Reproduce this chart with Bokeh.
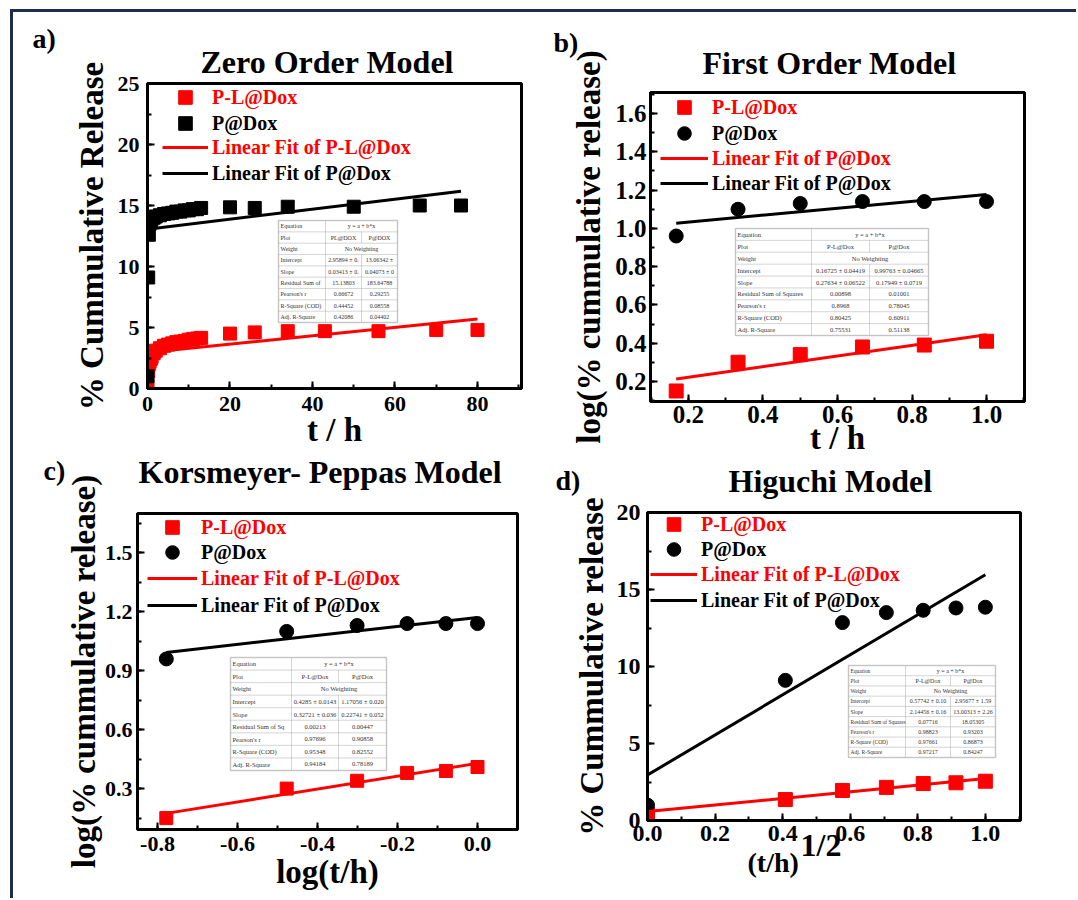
from bokeh.plotting import figure
from bokeh.layouts import column, row
from bokeh.models import (Legend, LegendItem, Label, BoxAnnotation, SingleIntervalTicker,
                          NumeralTickFormatter, Range1d, Title)
from bokeh.embed import file_html
from bokeh.resources import INLINE

RED = "#ff0000"
BLACK = "#000000"
NAVY = "#1d2d50"
FONT = "Liberation Serif"

# ---------------- data ----------------
# a) Zero order: % cumulative release vs t (h)
A_T_PL = [0, 0.167, 0.333, 0.5, 0.667, 0.833, 1, 1.5, 2, 3, 4, 5, 6, 7, 8, 9, 10, 11, 12, 13,
          20, 26, 34, 43, 56, 70, 80]
A_Y_PL = [0.2, 1.4, 2.0, 2.2, 2.4, 2.45, 2.6, 2.9, 3.1, 3.3, 3.5, 3.6, 3.7, 3.8, 3.85, 3.9, 4.0, 4.05, 4.1, 4.15,
          4.5, 4.6, 4.7, 4.7, 4.7, 4.8, 4.8]
A_T_P = [0, 0.167, 0.333, 0.5, 0.667, 0.833, 1, 1.5, 2, 3, 4, 5, 6, 7, 8, 9, 10, 11, 12, 13,
         20, 26, 34, 50, 66, 76]
A_Y_P = [1.0, 9.1, 12.6, 13.5, 13.8, 13.8, 13.9, 14.0, 14.1, 14.2, 14.3, 14.35, 14.4, 14.5, 14.5, 14.6, 14.6, 14.7, 14.7, 14.8,
         14.85, 14.8, 14.9, 14.9, 15.0, 15.0]
A_FIT_X_PL = [0, 80]
A_FIT_Y_PL = [2.96, 5.69]
A_FIT_X_P = [0, 76]
A_FIT_Y_P = [13.06, 16.16]

# b) First order: log(% cumulative release) vs t (h)
B_T = [0.167, 0.333, 0.5, 0.667, 0.833, 1.0]
B_Y_PL = [0.15, 0.30, 0.34, 0.38, 0.39, 0.41]
B_Y_P = [0.96, 1.10, 1.13, 1.14, 1.14, 1.14]
B_FIT_X = [0.167, 1.0]
B_FIT_Y_PL = [0.213, 0.444]
B_FIT_Y_P = [1.027, 1.177]

# c) Korsmeyer-Peppas: log(% cumulative release) vs log(t/h)
C_X = [-0.778, -0.477, -0.301, -0.176, -0.079, 0.0]
C_Y_PL = [0.15, 0.30, 0.34, 0.38, 0.39, 0.41]
C_Y_P = [0.96, 1.10, 1.13, 1.14, 1.14, 1.14]
C_FIT_X = [-0.778, 0.0]
C_FIT_Y_PL = [0.174, 0.4285]
C_FIT_Y_P = [0.993, 1.171]

# d) Higuchi: % cumulative release vs (t/h)^1/2
D_X = [0, 0.408, 0.577, 0.707, 0.816, 0.913, 1.0]
D_Y_PL = [0.4, 1.36, 1.95, 2.15, 2.4, 2.45, 2.55]
D_Y_P = [1.0, 9.1, 12.85, 13.5, 13.65, 13.8, 13.85]
D_FIT_X = [0, 1.0]
D_FIT_Y_PL = [0.577, 2.72]
D_FIT_Y_P = [2.957, 15.96]

TABLE_A = [
    ["Equation", "y = a + b*x"],
    ["Plot", "PL@DOX", "P@DOX"],
    ["Weight", "No Weighting"],
    ["Intercept", "2.95894 ± 0.", "13.06342 ±"],
    ["Slope", "0.03413 ± 0.", "0.04073 ± 0"],
    ["Residual Sum of", "15.13803", "183.64788"],
    ["Pearson's r", "0.66672", "0.29255"],
    ["R-Square (COD)", "0.44452", "0.08558"],
    ["Adj. R-Square", "0.42086", "0.04402"],
]
TABLE_B = [
    ["Equation", "y = a + b*x"],
    ["Plot", "P-L@Dox", "P@Dox"],
    ["Weight", "No Weighting"],
    ["Intercept", "0.16725 ± 0.04419", "0.99763 ± 0.04665"],
    ["Slope", "0.27634 ± 0.06522", "0.17949 ± 0.0719"],
    ["Residual Sum of Squares", "0.00898", "0.01001"],
    ["Pearson's r", "0.8968", "0.78045"],
    ["R-Square (COD)", "0.80425", "0.60911"],
    ["Adj. R-Square", "0.75531", "0.51138"],
]
TABLE_C = [
    ["Equation", "y = a + b*x"],
    ["Plot", "P-L@Dox", "P@Dox"],
    ["Weight", "No Weighting"],
    ["Intercept", "0.4285 ± 0.0143", "1.17056 ± 0.020"],
    ["Slope", "0.32721 ± 0.036", "0.22741 ± 0.052"],
    ["Residual Sum of Sq", "0.00213", "0.00447"],
    ["Pearson's r", "0.97696", "0.90858"],
    ["R-Square (COD)", "0.95348", "0.82552"],
    ["Adj. R-Square", "0.94184", "0.78189"],
]
TABLE_D = [
    ["Equation", "y = a + b*x"],
    ["Plot", "P-L@Dox", "P@Dox"],
    ["Weight", "No Weighting"],
    ["Intercept", "0.57742 ± 0.10", "2.95677 ± 1.59"],
    ["Slope", "2.14456 ± 0.16", "13.00313 ± 2.26"],
    ["Residual Sum of Squares", "0.07716", "18.05305"],
    ["Pearson's r", "0.98823", "0.93203"],
    ["R-Square (COD)", "0.97661", "0.86873"],
    ["Adj. R-Square", "0.97217", "0.84247"],
]


# ---------------- helpers ----------------
def conv(fr, xr, yr):
    l, t, r, b = fr
    X = lambda px: xr[0] + (px - l) / (r - l) * (xr[1] - xr[0])
    Y = lambda py: yr[0] + (b - py) / (b - t) * (yr[1] - yr[0])
    return X, Y


def mk_title(text, offset, standoff, fs, bold=True):
    return Title(text=text, align="left", offset=offset, standoff=standoff,
                 text_font=FONT, text_font_size=fs, text_font_style=("bold" if bold else "normal"),
                 text_color="black")


def make_panel(width, height, mb, xr, yr, xint, yint, xfmt, yfmt, titles,
               tick_fs, xlabel, ylabel, ylab_standoff, xlab_standoff, ystand, xstand):
    p = figure(width=width, height=height, x_range=Range1d(*xr), y_range=Range1d(*yr),
               output_backend="svg", toolbar_location=None, tools="",
               min_border_left=mb[0], min_border_right=mb[1],
               min_border_top=mb[2], min_border_bottom=mb[3],
               background_fill_color="white", border_fill_color="white")
    p.title.text = ""
    for t in titles:
        p.add_layout(t, "above")
    p.grid.visible = False
    p.outline_line_color = "black"
    p.outline_line_width = 3
    p.outline_line_alpha = 1
    for ax in (p.xaxis[0], p.yaxis[0]):
        ax.axis_line_width = 3
        ax.axis_line_color = "black"
        ax.major_tick_in = 7
        ax.major_tick_out = 0
        ax.major_tick_line_width = 2
        ax.minor_tick_in = 4
        ax.minor_tick_out = 0
        ax.minor_tick_line_width = 2
        ax.major_label_text_font = FONT
        ax.major_label_text_font_style = "bold"
        ax.major_label_text_font_size = tick_fs
        ax.major_label_text_color = "black"
        ax.axis_label_text_font = FONT
        ax.axis_label_text_font_style = "bold"
        ax.axis_label_text_font_size = "33px"
        ax.axis_label_text_color = "black"
    p.xaxis.ticker = SingleIntervalTicker(interval=xint, num_minor_ticks=2)
    p.yaxis.ticker = SingleIntervalTicker(interval=yint, num_minor_ticks=2)
    p.xaxis.formatter = NumeralTickFormatter(format=xfmt)
    p.yaxis.formatter = NumeralTickFormatter(format=yfmt)
    if xlabel:
        p.xaxis.axis_label = xlabel
    p.yaxis.axis_label = ylabel
    p.yaxis.axis_label_standoff = ylab_standoff
    p.xaxis.axis_label_standoff = xlab_standoff
    p.yaxis.major_label_standoff = ystand
    p.xaxis.major_label_standoff = xstand
    return p


def add_legend(p, r, label, color, loc, gw):
    lg = Legend(items=[LegendItem(label=label, renderers=[r])], location=loc,
                glyph_width=gw, glyph_height=34, label_standoff=4, padding=0, margin=0,
                spacing=0, background_fill_alpha=0, border_line_alpha=0,
                label_text_font=FONT, label_text_font_style="bold", label_text_font_size="20px",
                label_text_color=color, label_height=20)
    p.add_layout(lg, "center")


def add_table(p, X, Y, box, colx, rows, fs, first_fs=None):
    l, t, r, b = box
    n = len(rows)
    rh = (b - t) / n
    p.add_layout(BoxAnnotation(left=X(l), right=X(r), top=Y(t), bottom=Y(b),
                               fill_color="white", fill_alpha=1, line_color="#666666", line_width=1.5))
    for i, rw in enumerate(rows):
        y0 = t + i * rh
        y1 = y0 + rh
        if len(rw) == 2:
            cells = [(l, colx[0], rw[0], "left"), (colx[0], r, rw[1], "center")]
        else:
            cells = [(l, colx[0], rw[0], "left"), (colx[0], colx[1], rw[1], "center"),
                     (colx[1], r, rw[2], "center")]
        for (cl, cr, txt, al) in cells:
            p.add_layout(BoxAnnotation(left=X(cl), right=X(cr), top=Y(y0), bottom=Y(y1),
                                       fill_alpha=0, line_color="#a0a0a0", line_width=0.8))
            tx = cl + 2 if al == "left" else (cl + cr) / 2
            p.add_layout(Label(x=X(tx), y=Y((y0 + y1) / 2), text=txt, text_align=al,
                               text_baseline="middle", text_font=FONT,
                               text_font_size=(first_fs if (al == "left" and first_fs) else fs),
                               text_color="#333333"))


# ---------------- panel a ----------------
FA = (147, 83, 521, 388); XA = (0, 90.67); YA = (0, 25)
pa = make_panel(527, 439, (134, 19, 71, 63), XA, YA, 20, 5, "0", "0",
                [mk_title("Zero Order Model", 53, 8, "32px"), mk_title("a)", -115, -33, "28px")],
                "22px", "t / h", "% Cummulative Release", 5, -2, 8, 8)
Xa, Ya = conv(FA, XA, YA)
ra1 = pa.scatter(A_T_PL, A_Y_PL, marker="square", size=13, color=RED)
ra2 = pa.scatter(A_T_P, A_Y_P, marker="square", size=13, color=BLACK)
ra3 = pa.line(A_FIT_X_PL, A_FIT_Y_PL, line_color=RED, line_width=3)
ra4 = pa.line(A_FIT_X_P, A_FIT_Y_P, line_color=BLACK, line_width=3)
add_legend(pa, ra1, "P-L@Dox", RED, (15, 274), 46)
add_legend(pa, ra2, "P@Dox", BLACK, (15, 248), 46)
add_legend(pa, ra3, "Linear Fit of P-L@Dox", RED, (15, 224), 46)
add_legend(pa, ra4, "Linear Fit of P@Dox", BLACK, (15, 198), 46)
add_table(pa, Xa, Ya, (278, 220, 397, 322), [325, 361], TABLE_A, "6px")

# ---------------- panel b ----------------
FB = (650, 92, 1024, 401); XB = (0.098, 1.102); YB = (0.095, 1.71)
pb = make_panel(536, 447, (110, 52, 80, 58), XB, YB, 0.2, 0.2, "0.0", "0.0",
                [mk_title("First Order Model", 52, 23, "32px"), mk_title("b)", -97, -53, "28px")],
                "25px", "t / h", "log(% cummulative release)", 5, -6, 4, 4)
Xb, Yb = conv(FB, XB, YB)
rb1 = pb.scatter(B_T, B_Y_PL, marker="square", size=14, color=RED)
rb2 = pb.scatter(B_T, B_Y_P, marker="circle", size=14, color=BLACK)
rb3 = pb.line(B_FIT_X, B_FIT_Y_PL, line_color=RED, line_width=3)
rb4 = pb.line(B_FIT_X, B_FIT_Y_P, line_color=BLACK, line_width=3)
add_legend(pb, rb1, "P-L@Dox", RED, (10, 277), 48)
add_legend(pb, rb2, "P@Dox", BLACK, (10, 251), 48)
add_legend(pb, rb3, "Linear Fit of P@Dox", RED, (10, 226), 48)
add_legend(pb, rb4, "Linear Fit of P@Dox", BLACK, (10, 201), 48)
add_table(pb, Xb, Yb, (735, 228, 928, 335), [811, 869], TABLE_B, "6.5px")

# ---------------- panel c ----------------
FC = (137, 513, 517, 829); XC = (-0.85, 0.1); YC = (0.092, 1.70)
pc = make_panel(527, 447, (124, 23, 62, 69), XC, YC, 0.2, 0.3, "0.0", "0.0",
                [mk_title(" ", 0, 0, "20px"), mk_title("Korsmeyer- Peppas Model", 1, 0, "32px"),
                 mk_title("c)", -94, -69, "28px")],
                "22px", "log(t/h)", "log(% cummulative release)", 0, 0, 5, 7)
Xc, Yc = conv(FC, XC, YC)
rc1 = pc.scatter(C_X, C_Y_PL, marker="square", size=13, color=RED)
rc2 = pc.scatter(C_X, C_Y_P, marker="circle", size=14, color=BLACK)
rc3 = pc.line(C_FIT_X, C_FIT_Y_PL, line_color=RED, line_width=3)
rc4 = pc.line(C_FIT_X, C_FIT_Y_P, line_color=BLACK, line_width=3)
add_legend(pc, rc1, "P-L@Dox", RED, (10, 285), 50)
add_legend(pc, rc2, "P@Dox", BLACK, (10, 260), 50)
add_legend(pc, rc3, "Linear Fit of P-L@Dox", RED, (10, 234), 50)
add_legend(pc, rc4, "Linear Fit of P@Dox", BLACK, (10, 207), 50)
add_table(pc, Xc, Yc, (230, 657, 386, 770), [291, 338], TABLE_C, "6.5px")

# ---------------- panel d ----------------
FD = (647, 512, 1020, 820); XD = (0, 1.104); YD = (0, 20)
pd_ = make_panel(536, 439, (107, 56, 53, 78), XD, YD, 0.2, 5, "0.0", "0",
                 [mk_title(" ", 0, 0, "11px"), mk_title("Higuchi Model", 81, 0, "32px"),
                  mk_title("d)", -92, -71, "28px")],
                 "24px", "", "% Cummulative release", 4, 0, 7, 5)
Xd, Yd = conv(FD, XD, YD)
rd1 = pd_.scatter(D_X, D_Y_PL, marker="square", size=14, color=RED)
rd2 = pd_.scatter(D_X, D_Y_P, marker="circle", size=14, color=BLACK)
rd3 = pd_.line(D_FIT_X, D_FIT_Y_PL, line_color=RED, line_width=3)
rd4 = pd_.line(D_FIT_X, D_FIT_Y_P, line_color=BLACK, line_width=3)
add_legend(pd_, rd1, "P-L@Dox", RED, (3, 279), 47)
add_legend(pd_, rd2, "P@Dox", BLACK, (3, 254), 47)
add_legend(pd_, rd3, "Linear Fit of P-L@Dox", RED, (3, 229), 47)
add_legend(pd_, rd4, "Linear Fit of P@Dox", BLACK, (3, 203), 47)
add_table(pd_, Xd, Yd, (848, 665, 995, 757), [905, 950], TABLE_D, "6px", "5.5px")
pd_.add_layout(mk_title("1/2", 153, -37, "32px"), "below")
pd_.add_layout(mk_title("(t/h)", 100, 1, "28px"), "below")

layout = row(column(column(pa), column(pc)), column(column(pb), column(pd_)), margin=(9, 0, 0, 10),
             styles={"border-top": "3px solid " + NAVY, "border-left": "3px solid " + NAVY})

open("out.html", "w").write(file_html(layout, INLINE))
